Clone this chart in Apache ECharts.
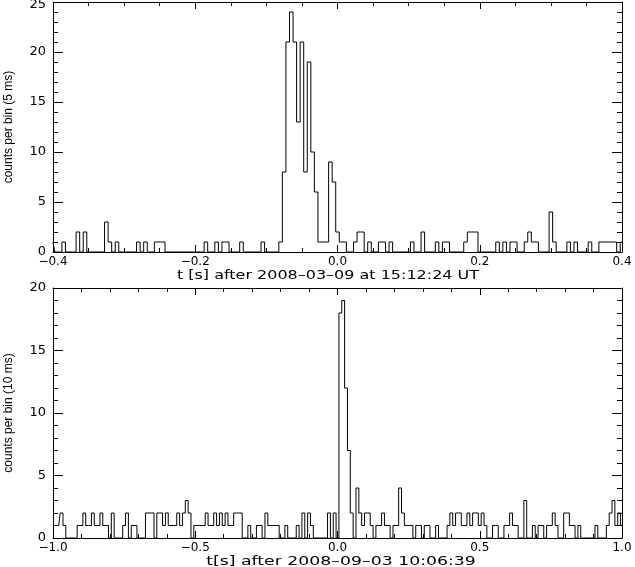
<!DOCTYPE html>
<html><head><meta charset="utf-8">
<script src="https://cdn.jsdelivr.net/npm/echarts@6/dist/echarts.min.js"></script>
<style>html,body{margin:0;padding:0;background:#fff}#c{width:635px;height:567px}</style>
</head><body><div id="c"></div>
<script>
// Top panel: counts per 5 ms bin, bins centred from -0.400 s to +0.400 s
const topCounts = [
  1,0,0,1,0,0,0,2,0,2,
  0,0,0,0,0,3,1,0,1,0,
  0,0,0,0,1,0,1,0,0,1,
  1,1,0,0,0,0,0,0,0,0,
  0,0,0,1,0,0,1,0,1,1,
  0,0,0,1,0,0,0,0,0,1,
  0,0,0,0,1,8,21,24,21,13,
  21,8,19,10,6,1,1,1,9,7,
  2,1,1,0,0,1,2,2,0,1,
  0,0,1,1,0,1,0,0,0,0,
  0,1,0,0,2,0,0,0,1,0,
  1,1,0,0,0,0,1,2,2,2,
  0,0,0,0,0,1,0,1,0,1,
  1,0,0,1,2,1,1,0,0,0,
  4,1,0,0,0,1,0,1,0,0,
  0,1,0,0,1,1,1,1,1,0,
  1
];
// Bottom panel: counts per 10 ms bin, bins centred from -1.00 s to +1.00 s
const bottomCounts = [
  1,1,1,2,1,0,0,0,0,1,
  1,2,1,1,2,1,1,2,1,1,
  0,2,0,0,0,1,2,0,1,1,
  0,0,0,2,2,2,0,2,2,1,
  2,1,1,1,2,1,2,3,2,0,
  1,1,1,1,2,1,1,2,1,2,
  1,2,1,1,2,2,2,0,0,1,
  0,0,1,1,0,2,1,1,1,1,
  0,0,1,0,0,0,1,0,2,0,
  2,1,0,0,0,0,0,2,0,2,
  0,18,19,12,7,2,0,4,2,1,
  2,2,1,0,1,1,2,1,1,0,
  1,1,4,2,1,1,1,0,1,1,
  0,1,1,0,0,1,0,0,0,1,
  2,1,2,2,1,1,2,1,2,2,
  1,2,1,0,0,1,1,0,0,1,
  1,2,1,1,0,0,3,0,0,1,
  0,1,1,0,1,1,2,1,0,0,
  2,2,1,1,0,1,0,0,0,0,
  0,1,0,0,0,1,2,3,1,2,
  1
];
const topFirstBin = -0.4, topBinWidth = 0.005;
const bottomFirstBin = -1.0, bottomBinWidth = 0.01;
const topXRange = [-0.4, 0.4], topXStep = 0.2, topYRange = [0, 25];
const bottomXRange = [-1.0, 1.0], bottomXStep = 0.5, bottomYRange = [0, 20];
const topXTitle = 't [s] after 2008\u201303\u201309 at 15:12:24 UT';
const bottomXTitle = 't[s] after 2008\u201309\u201303 10:06:39';
const topYTitle = 'counts per bin (5 ms)';
const bottomYTitle = 'counts per bin (10 ms)';

function toPairs(counts, start, width) {
  return counts.map((c, i) => [+(start + i * width).toFixed(4), c]);
}
const FONT = 'DejaVu Sans';
const BLACK = '#000';
function fmtX(v) {
  const r = Math.round(v * 10) / 10;
  const s = Math.abs(r).toFixed(1);
  return (r < 0 ? '\u2212' : '') + s;
}
function xAx(gi, range, step, minorSplit, pos) {
  const main = pos === 'bottom';
  return {
    type: 'value', gridIndex: gi, position: pos, min: range[0], max: range[1], interval: step,
    axisLine: { show: true, onZero: false, lineStyle: { color: BLACK, width: 1 } },
    axisTick: { show: true, inside: true, length: 7, lineStyle: { color: BLACK, width: 1 } },
    minorTick: { show: true, splitNumber: minorSplit, length: 4, lineStyle: { color: BLACK, width: 1 } },
    splitLine: { show: false }, minorSplitLine: { show: false },
    axisLabel: { show: main, margin: 4, color: BLACK, fontFamily: FONT, fontSize: 12, lineHeight: 12,
                 formatter: fmtX }
  };
}
function yAx(gi, range, pos, name) {
  const main = pos === 'left';
  const topVal = range[1];
  return {
    type: 'value', gridIndex: gi, position: pos, min: range[0], max: range[1], interval: 5,
    axisLine: { show: true, onZero: false, lineStyle: { color: BLACK, width: 1 } },
    axisTick: { show: true, inside: true, length: 10, lineStyle: { color: BLACK, width: 1 } },
    minorTick: { show: true, splitNumber: 5, length: 5, lineStyle: { color: BLACK, width: 1 } },
    splitLine: { show: false }, minorSplitLine: { show: false },
    axisLabel: { show: main, margin: 7, color: BLACK, fontFamily: FONT, fontSize: 13,
                 formatter: v => (gi === 0 && v === topVal) ? '{t|' + v + '}' : String(v),
                 rich: { t: { fontFamily: FONT, fontSize: 13, color: BLACK, padding: [6, 0, 0, 0] } } },
    name: main ? name : '', nameLocation: 'middle', nameRotate: 90, nameGap: 38,
    nameTextStyle: { color: BLACK, fontFamily: 'Liberation Sans', fontSize: 12 }
  };
}
function title(text, cx, cy, sx) {
  return {
    type: 'text', x: cx, y: cy, scaleX: sx, silent: true,
    style: { text: text, fill: BLACK, font: '13px "DejaVu Sans"',
             align: 'center', verticalAlign: 'middle' }
  };
}
const chart = echarts.init(document.getElementById('c'), null, { renderer: 'canvas' });
chart.setOption({
  animation: false,
  backgroundColor: '#fff',
  grid: [
    { left: 53, right: 13, top: 2, height: 250, containLabel: false, outerBoundsMode: 'none' },
    { left: 53, right: 13, top: 288, height: 250, containLabel: false, outerBoundsMode: 'none' }
  ],
  xAxis: [
    xAx(0, topXRange, topXStep, 4, 'bottom'),
    xAx(0, topXRange, topXStep, 4, 'top'),
    xAx(1, bottomXRange, bottomXStep, 5, 'bottom'),
    xAx(1, bottomXRange, bottomXStep, 5, 'top')
  ],
  yAxis: [
    yAx(0, topYRange, 'left', topYTitle),
    yAx(0, topYRange, 'right', ''),
    yAx(1, bottomYRange, 'left', bottomYTitle),
    yAx(1, bottomYRange, 'right', '')
  ],
  graphic: [
    title(topXTitle, 328, 276, 1.23),
    title(bottomXTitle, 341, 561.5, 1.33)
  ],
  series: [
    { type: 'line', xAxisIndex: 0, yAxisIndex: 0, step: 'middle', showSymbol: false, symbol: 'none',
      lineStyle: { color: BLACK, width: 1 }, data: toPairs(topCounts, topFirstBin, topBinWidth) },
    { type: 'line', xAxisIndex: 2, yAxisIndex: 2, step: 'middle', showSymbol: false, symbol: 'none',
      lineStyle: { color: BLACK, width: 1 }, data: toPairs(bottomCounts, bottomFirstBin, bottomBinWidth) }
  ]
});
</script></body></html>
